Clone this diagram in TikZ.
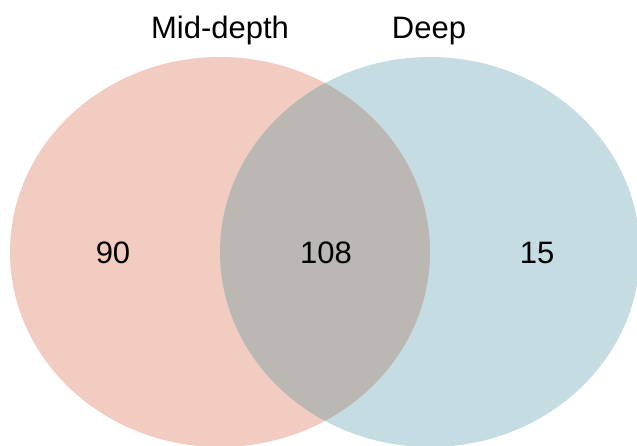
\documentclass[tikz,border=0pt]{standalone}
\usepackage{fontspec}
\setmainfont{Liberation Sans}
\definecolor{midc}{HTML}{F2CCC0}
\definecolor{deepc}{HTML}{C5DDE2}
\definecolor{bothc}{HTML}{BBB7B3}
\begin{document}
\begin{tikzpicture}[x=1pt,y=-1pt,
  lab/.style={font=\fontsize{31}{31}\selectfont, anchor=base, inner sep=0pt},
  num/.style={font=\fontsize{31}{31}\selectfont, anchor=base, inner sep=0pt}]
\useasboundingbox (0,0) rectangle (637,445);
\clip (0,0) rectangle (637,445);
\fill[midc] (220,252) ellipse [x radius=210, y radius=195];
\fill[deepc] (430,252) ellipse [x radius=210, y radius=195];
\begin{scope}
\clip (220,252) ellipse [x radius=210, y radius=195];
\fill[bothc] (430,252) ellipse [x radius=210, y radius=195];
\end{scope}
\node[lab] (lmid) at (220,38) {Mid-depth};
\node[lab] (ldeep) at (429,38) {Deep};
\node[num] (n90) at (113,263.5) {90};
\node[num] (n108) at (326,263.5) {108};
\node[num] (n15) at (537,263.5) {15};
\end{tikzpicture}
\end{document}
